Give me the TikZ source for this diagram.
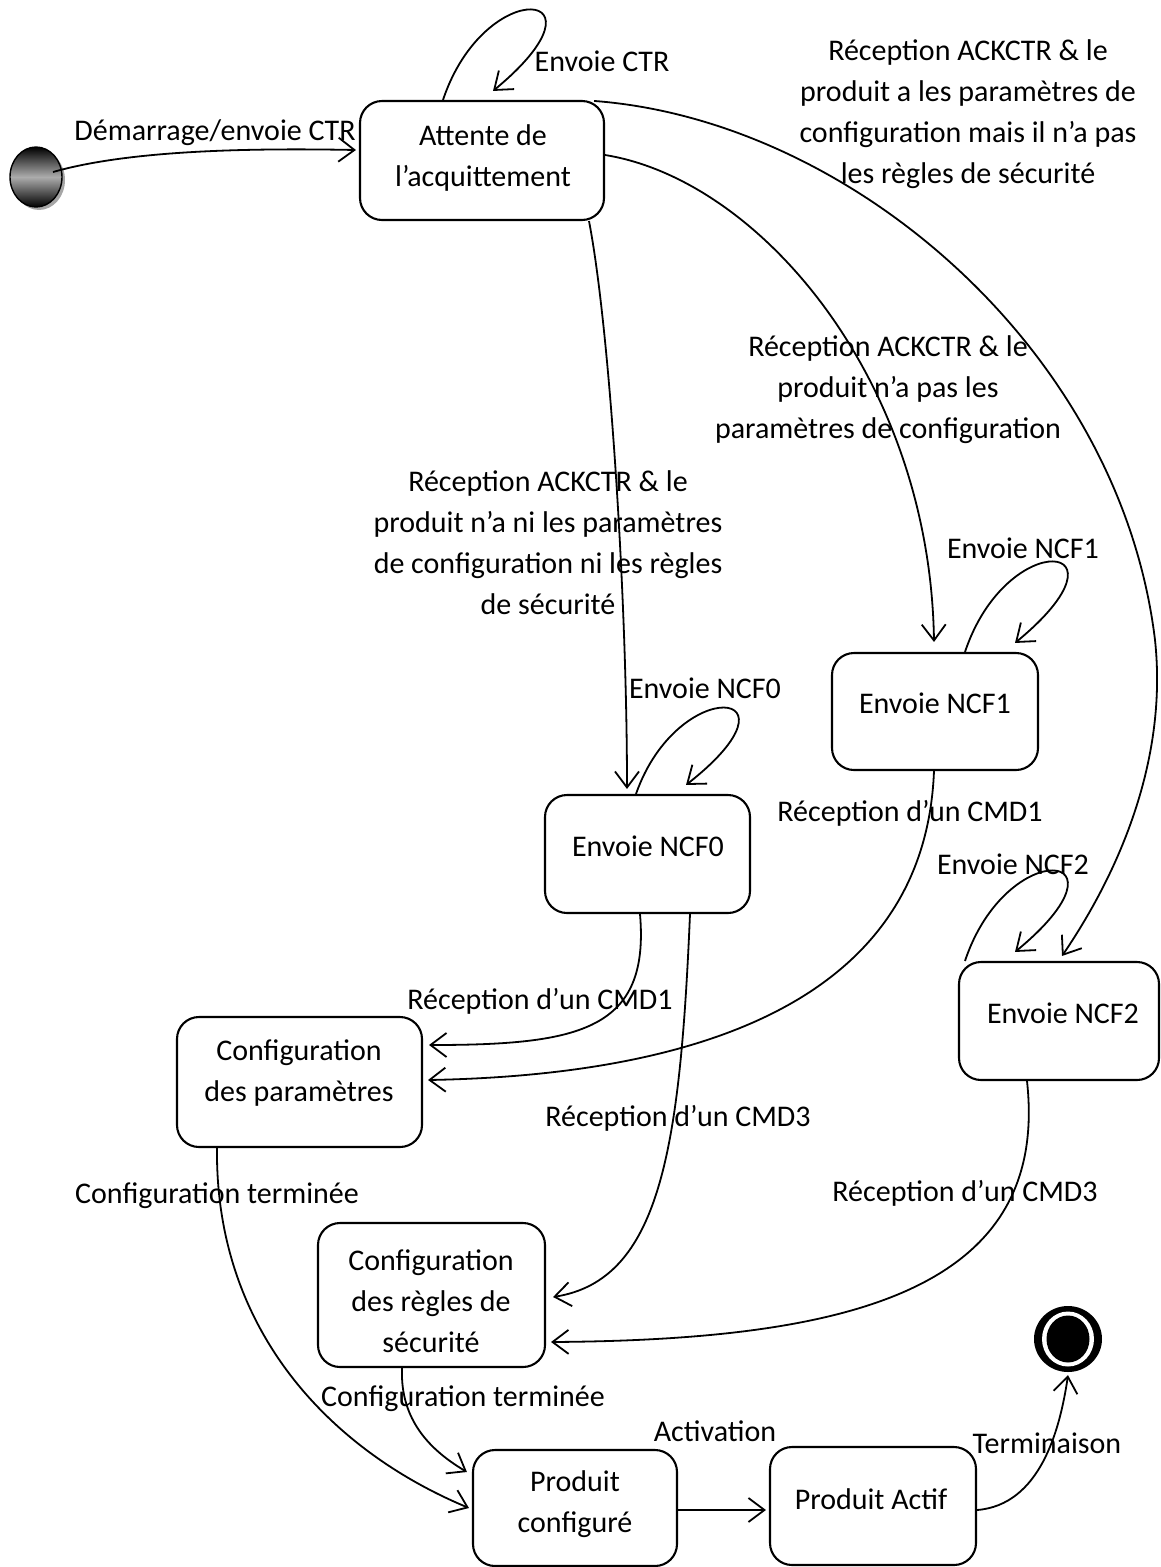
\documentclass[tikz,border=0pt]{standalone}
\usepackage{fontspec}
\setmainfont{Carlito}
\usetikzlibrary{arrows.meta,calc,shapes.geometric}
\tikzset{
  box/.style={draw, line width=2.1pt, rounded corners=22pt, inner sep=0pt},
  txt/.style={align=center, inner sep=0pt, font=\fontsize{30}{41}\selectfont},
  arr/.style={line width=1.8pt, -{Straight Barb[length=16pt,width=24pt,line width=1.8pt]}},
}
\begin{document}
\begin{tikzpicture}[x=1pt,y=-1pt]
\useasboundingbox (0,0) rectangle (1160,1567);

% initial state
\fill[gray!70] (39,180) ellipse [x radius=26pt, y radius=30pt];
\node[ellipse, draw=black, line width=1.4pt, minimum width=52pt, minimum height=60pt, inner sep=0pt,
  top color=black, bottom color=black, middle color=gray!65] (init) at (36,177) {};

% final state
\node[ellipse, fill=black, minimum width=68pt, minimum height=66pt, inner sep=0pt] (final) at (1068,1339) {};
\fill[white] (final.center) ellipse [x radius=26pt, y radius=27.5pt];
\fill[black] (final.center) ellipse [x radius=21.5pt, y radius=23.5pt];

% boxes
\node[box, minimum width=244pt, minimum height=119pt] (attente) at (482,160.5) {};
\node[txt] (attenteT) at (483,158) {Attente de\\l’acquittement};
\node[box, minimum width=206pt, minimum height=117pt] (ncf1) at (935,711.5) {};
\node[txt] (ncf1T) at (935,703) {Envoie NCF1};
\node[box, minimum width=205pt, minimum height=118pt] (ncf0) at (647.5,854) {};
\node[txt] (ncf0T) at (648,846) {Envoie NCF0};
\node[box, minimum width=200pt, minimum height=118pt] (ncf2) at (1059,1021) {};
\node[txt] (ncf2T) at (1063,1013) {Envoie NCF2};
\node[box, minimum width=245pt, minimum height=130pt] (params) at (299.5,1082) {};
\node[txt] (paramsT) at (299,1073) {Configuration\\des paramètres};
\node[box, minimum width=227pt, minimum height=144pt] (regles) at (431.5,1295) {};
\node[txt] (reglesT) at (431,1301) {Configuration\\des règles de\\sécurité};
\node[box, minimum width=204pt, minimum height=116pt] (pconf) at (575,1508) {};
\node[txt] (pconfT) at (575,1504) {Produit\\configuré};
\node[box, minimum width=206pt, minimum height=118pt] (pactif) at (873,1506) {};
\node[txt] (pactifT) at (871,1499) {Produit Actif};

% labels
\node[txt] (l0) at (215,133) {Démarrage/envoie CTR};
\node[txt] (l1) at (602,61) {Envoie CTR};
\node[txt] (l2) at (968,114) {Réception ACKCTR \& le\\produit a les paramètres de\\configuration mais il n’a pas\\les règles de sécurité};
\node[txt] (l3) at (888,390) {Réception ACKCTR \& le\\produit n’a pas les\\paramètres de configuration};
\node[txt] (l4) at (548,543) {Réception ACKCTR \& le\\produit n’a ni les paramètres\\de configuration ni les règles\\de sécurité};
\node[txt] (l5) at (1023,548) {Envoie NCF1};
\node[txt] (l6) at (705,688) {Envoie NCF0};
\node[txt] (l7) at (1013,864) {Envoie NCF2};
\node[txt] (l8) at (910,813) {Réception d’un CMD1};
\node[txt] (l9) at (540,1001) {Réception d’un CMD1};
\node[txt] (l10) at (678,1118) {Réception d’un CMD3};
\node[txt] (l11) at (965,1193) {Réception d’un CMD3};
\node[txt] (l12) at (217,1196) {Configuration terminée};
\node[txt] (l13) at (463,1399) {Configuration terminée};
\node[txt] (l14) at (715,1431) {Activation};
\node[txt] (l15) at (1047,1443) {Terminaison};

% connectors
\draw[arr] ($(init.center)+(17,-5)$) .. controls (130,150) and (250,148) .. ($(attente.west)+(-3,-10.5)$);
% self loops
\draw[arr] ($(attente.north)+(-39,0)$) .. controls +(42,-126) and +(125,-103) .. ($(attente.north)+(11,-9)$);
\draw[arr] ($(ncf1.north)+(30,0)$) .. controls +(42,-126) and +(125,-103) .. ($(ncf1.north)+(80,-9)$);
\draw[arr] ($(ncf0.north)+(-11.5,0)$) .. controls +(42,-120) and +(125,-98) .. ($(ncf0.north)+(38.5,-9)$);
\draw[arr] ($(ncf2.north)+(-94,0)$) .. controls +(42,-126) and +(125,-103) .. ($(ncf2.north)+(-44,-9)$);
% from attente
\draw[arr] ($(attente.north east)+(-11,1)$) .. controls (850,120) and (1120,350) .. (1155,640)
   .. controls (1170,780) and (1100,900) .. ($(ncf2.north)+(3,-5)$);
\draw[arr] ($(attente.east)+(0,-5.5)$) .. controls (760,180) and (930,380) .. ($(ncf1.north)+(-1,-10)$);
\draw[arr] ($(attente.south)+(107,0)$) .. controls (610,330) and (627,600) .. ($(ncf0.north)+(-20.5,-5)$);
% to params
\draw[arr] ($(ncf1.south)+(-1,0)$) .. controls (925,1000) and (700,1075) .. ($(params.east)+(5,-2)$);
\draw[arr] ($(ncf0.south)+(-7.5,0)$) .. controls (650,1030) and (580,1045) .. ($(params.east)+(6,-37)$);
% to regles
\draw[arr] ($(ncf0.south)+(42.5,0)$) .. controls (680,1150) and (660,1280) .. ($(regles.east)+(7,2)$);
\draw[arr] ($(ncf2.south)+(-32,0)$) .. controls (1050,1290) and (850,1340) .. ($(regles.east)+(5,47)$);
% to pconf
\draw[arr] ($(params.south)+(-82.5,0)$) .. controls (215,1330) and (330,1450) .. ($(pconf.west)+(-3,0)$);
\draw[arr] ($(regles.south)+(-29.5,0)$) .. controls (400,1420) and (430,1450) .. ($(pconf.west)+(-5,-36)$);
% activation
\draw[arr, line width=2.2pt] ($(pconf.east)+(0,2)$) -- ($(pactif.west)+(-3,4)$);
% termination
\draw[arr] ($(pactif.east)+(0,4)$) .. controls (1040,1505) and (1060,1430) .. ($(final.south)+(0,3)$);
\end{tikzpicture}
\end{document}
